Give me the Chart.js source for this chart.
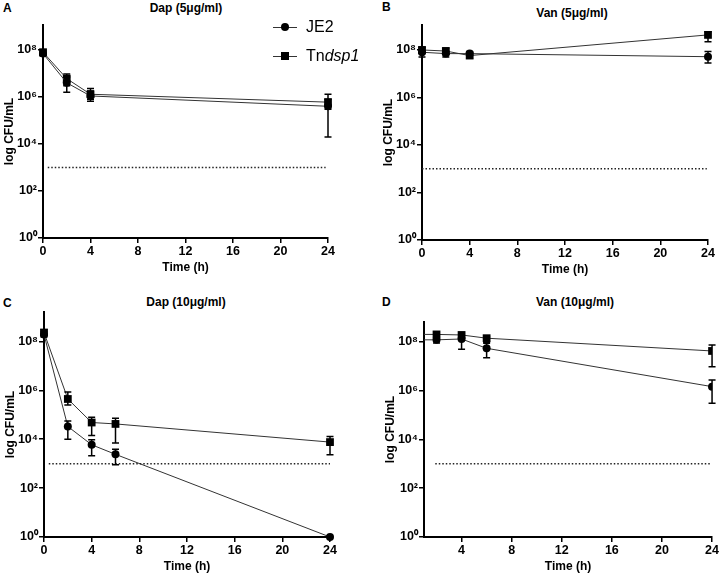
<!DOCTYPE html>
<html>
<head>
<meta charset="utf-8">
<script src="https://cdn.jsdelivr.net/npm/chart.js@4.4.0/dist/chart.umd.min.js"></script>
<style>
body { margin: 0; background: #fff; width: 720px; height: 575px; position: relative; overflow: hidden;
       font-family: Arial, "Liberation Sans", sans-serif; color: #000; }
.box { position: absolute; width: 360px; }
.letter { position: absolute; font-weight: bold; font-size: 12px; line-height: 1; transform: translateY(-50%); }
.ttl { position: absolute; font-weight: bold; font-size: 12px; white-space: nowrap; transform: translate(-50%, -50%); }
.leg { position: absolute; height: 20px; display: flex; align-items: center; font-size: 16px; transform: translateY(-50%); white-space: nowrap; }
.leg .mk { position: relative; width: 24px; height: 20px; margin-right: 9px; }
.leg .mk:before { content: ""; position: absolute; left: 0; right: 0; top: 9.5px; border-top: 1px solid #333; }
.leg .dot { position: absolute; left: 8px; top: 6px; width: 8px; height: 8px; border-radius: 50%; background: #000; }
.leg .sq { position: absolute; left: 8px; top: 6px; width: 8px; height: 8px; background: #000; }
</style>
</head>
<body>

<div class="letter" style="left:3px;top:8px">A</div>
<div class="letter" style="left:382px;top:7px">B</div>
<div class="letter" style="left:3px;top:303px">C</div>
<div class="letter" style="left:382px;top:302px">D</div>

<div class="ttl" style="left:186px;top:8px">Dap (5μg/ml)</div>
<div class="ttl" style="left:572px;top:13px">Van (5μg/ml)</div>
<div class="ttl" style="left:186px;top:302px">Dap (10μg/ml)</div>
<div class="ttl" style="left:575px;top:302px">Van (10μg/ml)</div>

<div class="box" id="boxA"><canvas id="chartA"></canvas></div>
<div class="box" id="boxB"><canvas id="chartB"></canvas></div>
<div class="box" id="boxC"><canvas id="chartC"></canvas></div>
<div class="box" id="boxD"><canvas id="chartD"></canvas></div>

<div class="leg" style="left:273px;top:27px"><span class="mk"><span class="dot"></span></span>JE2</div>
<div class="leg" style="left:273px;top:56px"><span class="mk"><span class="sq"></span></span>Tn<i>dsp1</i></div>

<script>
// tick labels
const xTicks = [0, 4, 8, 12, 16, 20, 24];
const yTickValues = [1, 1e2, 1e4, 1e6, 1e8];
const yTickLabels = ['10⁰', '10²', '10⁴', '10⁶', '10⁸'];
const detectionLimit = 1e3;

// A: Dap 5 ug/ml
const timesA = [0, 2, 4, 24];
const je2A = [7e7, 4e6, 1.1e6, 4e5];
const je2A_lo = [5.5e7, 1.6e6, 6.5e5, 2e4];
const je2A_hi = [9e7, 7e6, 1.8e6, 8e5];
const tnA = [8e7, 6e6, 1.3e6, 6e5];
const tnA_lo = [6.5e7, 3e6, 8e5, 3e5];
const tnA_hi = [1e8, 9.5e6, 2.3e6, 1.3e6];
const limitA = [0.4, 23.8];

// B: Van 5 ug/ml
const timesB = [0, 2, 4, 24];
const je2B = [8e7, 7e7, 7e7, 5.2e7];
const je2B_lo = [5e7, 5e7, 5.5e7, 2.8e7];
const je2B_hi = [1.2e8, 9e7, 8.5e7, 8.5e7];
const tnB = [1e8, 9e7, 5.8e7, 4.3e8];
const tnB_lo = [7e7, 6.5e7, 4.5e7, 2.2e8];
const tnB_hi = [1.3e8, 1.2e8, 7e7, 5.9e8];
const limitB = [0, 23.9];

// C: Dap 10 ug/ml
const timesC = [0, 2, 4, 6, 24];
const je2C = [1.9e8, 3.3e4, 5.9e3, 2.4e3, 1];
const je2C_lo = [1.5e8, 1e4, 2.1e3, 9e2, 1];
const je2C_hi = [2.5e8, 5.6e4, 9.5e3, 3.9e3, 1];
const tnC = [2.3e8, 4.4e5, 4.8e4, 4.2e4, 7.6e3];
const tnC_lo = [1.8e8, 2.5e5, 1.4e4, 6.9e3, 2.3e3];
const tnC_hi = [3e8, 8.5e5, 7.8e4, 7.2e4, 1.3e4];
const limitC = [0.4, 24];

// D: Van 10 ug/ml
const timesD = [0, 2, 4, 6, 24];
const je2D = [1.2e8, 1.2e8, 1.3e8, 5.4e7, 1.45e6];
const je2D_lo = [null, 9e7, 4.9e7, 2.2e7, 3e5];
const je2D_hi = [null, 1.6e8, 2e8, 8.7e7, 2.7e6];
const tnD = [2e8, 2e8, 1.9e8, 1.4e8, 4.2e7];
const tnD_lo = [null, 1.7e8, 1.6e8, 9.5e7, 9.5e6];
const tnD_hi = [null, 2.4e8, 2.3e8, 1.6e8, 7.4e7];
const limitD = [1.9, 23.9];

const fontFamily = 'Arial, "Liberation Sans", sans-serif';
const tickFont = { family: fontFamily, size: 12.5, weight: 'bold', lineHeight: 1.2 };
const titleFont = { family: fontFamily, size: 12, weight: 'bold', lineHeight: 1.2 };

const errorBars = {
    id: 'errorBars',
    afterDatasetsDraw(chart) {
        const ctx = chart.ctx;
        const xs = chart.scales.x, ys = chart.scales.y;
        ctx.save();
        ctx.strokeStyle = '#000';
        ctx.lineWidth = 1.5;
        chart.data.datasets.forEach(ds => {
            if (!ds.errLo) return;
            ds.data.forEach((p, i) => {
                const lo = ds.errLo[i], hi = ds.errHi[i];
                if (lo == null || lo === hi) return;
                const px = xs.getPixelForValue(p.x);
                const yl = ys.getPixelForValue(lo);
                const yh = ys.getPixelForValue(hi);
                ctx.beginPath();
                ctx.moveTo(px, yl); ctx.lineTo(px, yh);
                ctx.moveTo(px - 3.5, yl); ctx.lineTo(px + 3.5, yl);
                ctx.moveTo(px - 3.5, yh); ctx.lineTo(px + 3.5, yh);
                ctx.stroke();
            });
        });
        ctx.restore();
    }
};

function seriesSet(times, vals, lo, hi, style, radius, clip) {
    return {
        data: times.map((t, i) => ({ x: t, y: vals[i] })),
        borderColor: '#333',
        borderWidth: 1,
        pointStyle: style,
        pointRadius: radius,
        pointBackgroundColor: '#000',
        pointBorderColor: '#000',
        pointBorderWidth: 0,
        tension: 0,
        clip: clip,
        errLo: lo,
        errHi: hi
    };
}

function makePanel(id, pos, plot, times, je2, je2Lo, je2Hi, tn, tnLo, tnHi, limitX, xMin, yMax, clip) {
    const box = document.getElementById('box' + id);
    box.style.left = pos.x + 'px';
    box.style.top = pos.y + 'px';
    box.style.height = (plot.bottom - pos.y + 37) + 'px';

    return new Chart(document.getElementById('chart' + id), {
        type: 'line',
        data: {
            datasets: [
                {
                    data: limitX.map(x => ({ x: x, y: detectionLimit })),
                    borderColor: '#222',
                    borderWidth: 1.5,
                    borderDash: [1.5, 2],
                    pointRadius: 0
                },
                seriesSet(times, je2, je2Lo, je2Hi, 'circle', 4, clip),
                seriesSet(times, tn, tnLo, tnHi, 'rect', 5.5, clip)
            ]
        },
        options: {
            responsive: true,
            maintainAspectRatio: false,
            animation: false,
            layout: {
                padding: {
                    left: plot.left - pos.x - 43,
                    right: pos.x + 360 - plot.right,
                    top: plot.top - pos.y,
                    bottom: 0
                }
            },
            plugins: { legend: { display: false }, tooltip: { enabled: false } },
            scales: {
                x: {
                    type: 'linear',
                    min: xMin,
                    max: 24,
                    afterFit: s => { s.height = 37; },
                    afterBuildTicks: s => { s.ticks = xTicks.filter(v => v >= xMin).map(v => ({ value: v })); },
                    border: { color: '#000', width: 2 },
                    grid: { drawOnChartArea: false, color: '#000', lineWidth: 1.5, tickLength: 5 },
                    ticks: { color: '#000', font: tickFont, padding: 1, maxRotation: 0 },
                    title: { display: true, text: 'Time (h)', color: '#000', font: titleFont, padding: { top: 0, bottom: 0.6 } }
                },
                y: {
                    type: 'logarithmic',
                    min: 1,
                    max: yMax,
                    afterFit: s => { s.width = 43; },
                    afterBuildTicks: s => { s.ticks = yTickValues.map(v => ({ value: v })); },
                    border: { color: '#000', width: 2 },
                    grid: { drawOnChartArea: false, color: '#000', lineWidth: 1.5, tickLength: 5 },
                    ticks: { color: '#000', font: tickFont, padding: 1, callback: (v, i) => yTickLabels[i] },
                    title: { display: true, text: 'log CFU/mL', color: '#000', font: titleFont, padding: { top: 2, bottom: 0 } }
                }
            }
        },
        plugins: [errorBars]
    });
}

makePanel('A', { x: 0, y: 0 }, { left: 43, right: 328, top: 25, bottom: 238 },
    timesA, je2A, je2A_lo, je2A_hi, tnA, tnA_lo, tnA_hi, limitA, 0, Math.pow(10, 9.06), false);
makePanel('B', { x: 360, y: 0 }, { left: 422, right: 708, top: 25, bottom: 240 },
    timesB, je2B, je2B_lo, je2B_hi, tnB, tnB_lo, tnB_hi, limitB, 0, Math.pow(10, 9.05), false);
makePanel('C', { x: 0, y: 287 }, { left: 44, right: 330, top: 312, bottom: 537 },
    timesC, je2C, je2C_lo, je2C_hi, tnC, tnC_lo, tnC_hi, limitC, 0, Math.pow(10, 9.2), false);
makePanel('D', { x: 360, y: 287 }, { left: 424, right: 713, top: 322, bottom: 537 },
    timesD, je2D, je2D_lo, je2D_hi, tnD, tnD_lo, tnD_hi, limitD, 1, Math.pow(10, 8.81), 0);
</script>
</body>
</html>
